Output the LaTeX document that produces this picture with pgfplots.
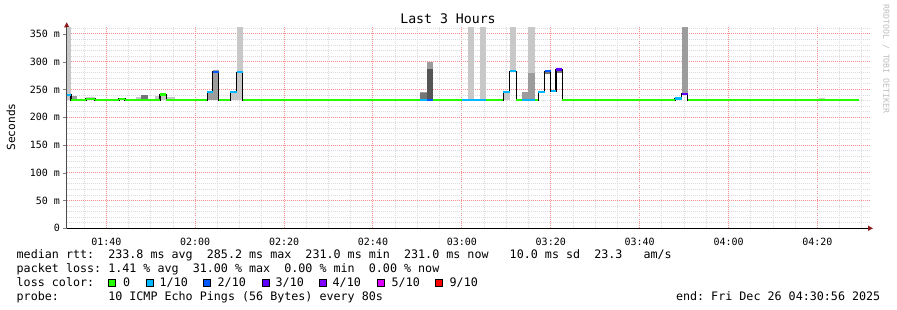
\documentclass[border=0pt]{standalone}
\usepackage{fontspec}
\setmainfont{DejaVu Sans Mono}
\setmonofont{DejaVu Sans Mono}
\usepackage{pgfplots}
\pgfplotsset{compat=1.18}
\usetikzlibrary{arrows.meta}
\definecolor{lg}{HTML}{C8C8C8}
\definecolor{mg}{HTML}{9C9C9C}
\definecolor{dg}{HTML}{767676}
\definecolor{ddg}{HTML}{555555}
\definecolor{cz}{HTML}{26FF00}
\definecolor{ca}{HTML}{00B8FF}
\definecolor{cb}{HTML}{0059FF}
\definecolor{cc}{HTML}{5E00FF}
\definecolor{cd}{HTML}{7E00FF}
\definecolor{ce}{HTML}{DD00FF}
\definecolor{cf}{HTML}{FF0000}
\definecolor{mgrid}{HTML}{F59090}
\definecolor{sgrid}{HTML}{DCDCDC}
\definecolor{arrowred}{HTML}{8B1A1A}
\newcommand{\lbox}[1]{{\setlength{\fboxsep}{0pt}\setlength{\fboxrule}{0.8pt}\fcolorbox{black}{#1}{\rule{0pt}{6.4pt}\rule{6.4pt}{0pt}}}}
\begin{document}
\frenchspacing
\begin{tikzpicture}[x=1pt,y=1pt]
\fill[white] (0,0) rectangle (897,310);
\path[use as bounding box] (0,0) rectangle (897,310);
\begin{axis}[
  at={(66.7pt,81.7pt)}, anchor=south west, scale only axis,
  width=802.3pt, height=201pt,
  xmin=91.09, xmax=271.6, ymin=0, ymax=362,
  axis lines=left,
  x axis line style={black, line width=1pt, -{Triangle[length=5pt,width=5pt,color=arrowred]}, shorten >=-4pt},
  y axis line style={black!70, line width=0.8pt, -{Triangle[length=5pt,width=5pt,color=arrowred]}, shorten >=-5pt},
  xtick={100,120,140,160,180,200,220,240,260},
  xticklabels={01:40,02:00,02:20,02:40,03:00,03:20,03:40,04:00,04:20},
  minor xtick={95,105,110,115,125,130,135,145,150,155,165,170,175,185,190,195,205,210,215,225,230,235,245,250,255,265,270},
  ytick={0,50,100,150,200,250,300,350},
  yticklabels={0,50 m,100 m,150 m,200 m,250 m,300 m,350 m},
  minor ytick={10,20,30,40,60,70,80,90,110,120,130,140,160,170,180,190,210,220,230,240,260,270,280,290,310,320,330,340,360},
  grid=both,
  every axis grid/.style={},
  every major grid/.style={draw=mgrid, dash pattern=on 1pt off 1pt, line width=1pt},
  every minor grid/.style={draw=sgrid, dash pattern=on 1pt off 1pt, line width=0.9pt},
  major x tick style={draw=none},
  minor tick length=0pt,
  ytick align=outside, major tick length=4pt,
  tick label style={font=\fontsize{10}{10}\selectfont, inner sep=0pt},
  xticklabel style={anchor=base, yshift=-15pt},
  yticklabel style={anchor=east, xshift=-2.5pt},
  unbounded coords=jump,
]
% smoke
\addplot[fill=lg,draw=none] coordinates {(91.09,231)(92.06,231)(92.06,362)(91.09,362)} -- cycle;
\addplot[fill=mg,draw=none] coordinates {(92.06,231)(93.40,231)(93.40,239)(92.06,239)} -- cycle;
\addplot[fill=lg,draw=none] coordinates {(95.43,231)(97.46,231)(97.46,236)(95.43,236)} -- cycle;
\addplot[fill=lg,draw=none] coordinates {(106.68,231)(107.81,231)(107.81,236)(106.68,236)} -- cycle;
\addplot[fill=dg,draw=none] coordinates {(107.81,231)(109.38,231)(109.38,240)(107.81,240)} -- cycle;
\addplot[fill=lg,draw=none] coordinates {(110.96,231)(112.10,231)(112.10,238)(110.96,238)} -- cycle;
\addplot[fill=lg,draw=none] coordinates {(112.10,231)(113.50,231)(113.50,242)(112.10,242)} -- cycle;
\addplot[fill=lg,draw=none] coordinates {(113.50,231)(115.46,231)(115.46,237)(113.50,237)} -- cycle;
\addplot[fill=mg,draw=none] coordinates {(122.73,231)(123.90,231)(123.90,245)(122.73,245)} -- cycle;
\addplot[fill=mg,draw=none] coordinates {(123.90,231)(125.25,231)(125.25,285)(123.90,285)} -- cycle;
\addplot[fill=lg,draw=none] coordinates {(127.90,231)(129.30,231)(129.30,245)(127.90,245)} -- cycle;
\addplot[fill=lg,draw=none] coordinates {(129.30,231)(130.65,231)(130.65,362)(129.30,362)} -- cycle;
\addplot[fill=mg,draw=none] coordinates {(170.59,231)(172.05,231)(172.05,246)(170.59,246)} -- cycle;
\addplot[fill=dg,draw=none] coordinates {(170.59,231)(172.05,231)(172.05,243)(170.59,243)} -- cycle;
\addplot[fill=mg,draw=none] coordinates {(172.05,231)(173.51,231)(173.51,300)(172.05,300)} -- cycle;
\addplot[fill=ddg,draw=none] coordinates {(172.05,231)(173.51,231)(173.51,287)(172.05,287)} -- cycle;
\addplot[fill=lg,draw=none] coordinates {(181.39,231)(182.74,231)(182.74,362)(181.39,362)} -- cycle;
\addplot[fill=lg,draw=none] coordinates {(184.09,231)(185.44,231)(185.44,362)(184.09,362)} -- cycle;
\addplot[fill=lg,draw=none] coordinates {(189.33,231)(190.73,231)(190.73,246)(189.33,246)} -- cycle;
\addplot[fill=lg,draw=none] coordinates {(190.73,283)(192.26,283)(192.26,362)(190.73,362)} -- cycle;
\addplot[fill=mg,draw=none] coordinates {(193.54,231)(194.89,231)(194.89,245)(193.54,245)} -- cycle;
\addplot[fill=lg,draw=none] coordinates {(194.89,231)(196.35,231)(196.35,362)(194.89,362)} -- cycle;
\addplot[fill=mg,draw=none] coordinates {(194.89,231)(196.35,231)(196.35,280)(194.89,280)} -- cycle;
\addplot[fill=dg,draw=none] coordinates {(198.60,277)(199.95,277)(199.95,283)(198.60,283)} -- cycle;
\addplot[fill=dg,draw=none] coordinates {(201.19,279)(202.61,279)(202.61,286)(201.19,286)} -- cycle;
\addplot[fill=mg,draw=none] coordinates {(229.43,242)(230.85,242)(230.85,362)(229.43,362)} -- cycle;
\addplot[fill=lg,draw=none] coordinates {(260.30,231)(261.60,231)(261.60,234)(260.30,234)} -- cycle;
% median (black)
\addplot[const plot, black, line width=1.2pt] coordinates {
(91.09,240)(92.06,231)(95.43,233)(97.46,231)(102.86,233)(104.21,231)(112.10,241)(113.50,231)
(122.73,245)(123.90,282)(125.25,231)(127.90,245)(129.30,281)(130.65,231)(189.33,246)(190.73,283)
(192.26,231)(197.21,245)(198.60,283)(199.95,247)(201.19,286)(202.61,231)(227.97,234)(229.43,242)
(230.85,231)(269.37,231)};
% loss 0
\addplot[cz, line width=2.2pt] coordinates {
(92.06,231)(95.43,231)(95.43,nan)(95.43,233)(97.46,233)(97.46,nan)(97.46,231)(102.86,231)(102.86,nan)
(102.86,233)(104.21,233)(104.21,nan)(104.21,231)(112.10,231)(112.10,nan)(112.10,241)(113.50,241)(113.50,nan)
(113.50,231)(122.73,231)(122.73,nan)(125.25,231)(127.90,231)(127.90,nan)(130.65,231)(170.59,231)(170.59,nan)
(173.51,231)(180.04,231)(180.04,nan)(185.44,231)(189.33,231)(189.33,nan)(192.26,231)(193.54,231)(193.54,nan)
(196.35,231)(197.21,231)(197.21,nan)(202.61,231)(227.97,231)(227.97,nan)(230.85,231)(269.37,231)};
% loss 1/10
\addplot[ca, line width=2.4pt] coordinates {
(91.09,240)(92.06,240)(92.06,nan)(122.73,245)(123.90,245)(123.90,nan)(127.90,245)(129.30,245)(129.30,nan)
(129.30,281)(130.65,281)(130.65,nan)(170.59,231)(172.05,231)(172.05,nan)(180.04,231)(185.44,231)(185.44,nan)
(189.33,246)(190.73,246)(190.73,nan)(190.73,283)(192.26,283)(192.26,nan)(193.54,231)(196.35,231)(196.35,nan)
(197.21,245)(198.60,245)(198.60,nan)(199.95,247)(201.19,247)(201.19,nan)(227.97,234)(229.43,234)};
% loss 2/10
\addplot[cb, line width=2.4pt] coordinates {
(123.90,282)(125.25,282)(125.25,nan)(172.05,231)(173.51,231)(173.51,nan)(198.60,283)(199.95,283)};
% loss 3/10
\addplot[cc, line width=2.4pt] coordinates {
(201.19,286)(202.61,286)(202.61,nan)(229.43,242)(230.85,242)};
\end{axis}
% texts
\node[anchor=base, inner sep=0pt, font=\fontsize{13.2}{14}\selectfont] at (448,286.5) {Last 3 Hours};
\node[rotate=90, inner sep=0pt, font=\fontsize{11.2}{12}\selectfont] at (11,183) {Seconds};
\node[rotate=-90, inner sep=0pt, text=black!25, font=\fontsize{8.2}{9}\selectfont] at (886,251) {RRDTOOL / TOBI OETIKER};
\begin{scope}[every node/.style={inner sep=0pt, font=\fontsize{11.7}{14}\selectfont}]
\node[anchor=base west] at (16.5,51.5) {median rtt:~~233.8 ms avg~~285.2 ms max~~231.0 ms min~~231.0 ms now~~~10.0 ms sd~~23.3~~~am/s};
\node[anchor=base west] at (16.5,37.5) {packet loss: 1.41 \% avg~~31.00 \% max~~0.00 \% min~~0.00 \% now};
\node[anchor=base west] at (16.5,23.5) {loss color:};
\node[anchor=west] at (108,27.3) {\lbox{cz}};
\node[anchor=base west] at (123,23.5) {0};
\node[anchor=west] at (146,27.3) {\lbox{ca}};
\node[anchor=base west] at (159.5,23.5) {1/10};
\node[anchor=west] at (203,27.3) {\lbox{cb}};
\node[anchor=base west] at (217.5,23.5) {2/10};
\node[anchor=west] at (262,27.3) {\lbox{cc}};
\node[anchor=base west] at (275.5,23.5) {3/10};
\node[anchor=west] at (319,27.3) {\lbox{cd}};
\node[anchor=base west] at (332.5,23.5) {4/10};
\node[anchor=west] at (377,27.3) {\lbox{ce}};
\node[anchor=base west] at (391.5,23.5) {5/10};
\node[anchor=west] at (435,27.3) {\lbox{cf}};
\node[anchor=base west] at (449.5,23.5) {9/10};
\node[anchor=base west] at (16.5,9.5) {probe:~~~~~~~10 ICMP Echo Pings (56 Bytes) every 80s};
\node[anchor=base east] at (880.5,9.5) {end: Fri Dec 26 04:30:56 2025};
\end{scope}
\end{tikzpicture}
\end{document}
